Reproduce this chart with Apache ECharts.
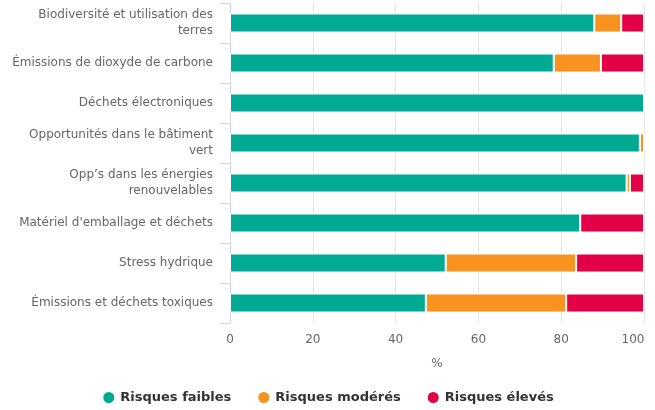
<!DOCTYPE html>
<html>
<head>
<meta charset="utf-8">
<script src="https://cdn.jsdelivr.net/npm/echarts@6/dist/echarts.min.js"></script>
<style>
html,body{margin:0;padding:0;background:#fff;}
#chart{width:655px;height:410px;}
</style>
</head>
<body>
<div id="chart"></div>
<script>
const categories = [
  "Biodiversité et utilisation des terres",
  "Émissions de dioxyde de carbone",
  "Déchets électroniques",
  "Opportunités dans le bâtiment vert",
  "Opp’s dans les énergies renouvelables",
  "Matériel d'emballage et déchets",
  "Stress hydrique",
  "Émissions et déchets toxiques"
];
const categoryLabels = [
  "Biodiversité et utilisation des\nterres",
  "Émissions de dioxyde de carbone",
  "Déchets électroniques",
  "Opportunités dans le bâtiment\nvert",
  "Opp’s dans les énergies\nrenouvelables",
  "Matériel d'emballage et déchets",
  "Stress hydrique",
  "Émissions et déchets toxiques"
];
const seriesNames = ["Risques faibles", "Risques modérés", "Risques élevés"];
const lowRisk = [88.0, 78.2, 100, 99.0, 95.8, 84.6, 52.1, 47.3];
const moderateRisk = [6.5, 11.4, 0, 1.0, 0.8, 0, 31.5, 33.9];
const highRisk = [5.5, 10.4, 0, 0, 3.4, 15.4, 16.4, 18.8];
const xTicks = [0, 20, 40, 60, 80, 100];
const colors = ["#00AA93", "#F7931E", "#E30047"];

const chart = echarts.init(document.getElementById('chart'), null, {renderer: 'canvas'});
const font = 'DejaVu Sans';
const mk = (name, data, color) => ({
  name: name,
  type: 'bar',
  stack: 'total',
  data: data,
  barWidth: 19,
  itemStyle: {color: color, borderColor: '#ffffff', borderWidth: 1},
  emphasis: {disabled: true}
});
const xMax = xTicks[xTicks.length - 1];
chart.setOption({
  animation: false,
  color: colors,
  grid: {left: 230, right: 11, top: 3, bottom: 87, containLabel: false},
  legend: {
    bottom: 0,
    left: 'center',
    icon: 'circle',
    itemWidth: 13,
    itemHeight: 13,
    itemGap: 25,
    textStyle: {fontFamily: font, fontSize: 13, fontWeight: 'bold', color: '#333333'},
    data: seriesNames
  },
  xAxis: {
    type: 'value',
    min: xTicks[0],
    max: xMax,
    interval: 20,
    name: '%',
    nameLocation: 'middle',
    nameGap: 35,
    nameTextStyle: {fontFamily: font, fontSize: 12, color: '#666666'},
    axisLine: {show: false},
    axisTick: {show: false},
    axisLabel: {
      fontFamily: font, fontSize: 12, color: '#666666', margin: 11,
      formatter: function (v) { return v === xMax ? '{last|' + v + '}' : String(v); },
      rich: {last: {fontFamily: font, fontSize: 12, color: '#666666', padding: [0, 22, 0, 0]}}
    },
    splitLine: {show: true, lineStyle: {color: '#e6e6e6', width: 1}}
  },
  yAxis: {
    type: 'category',
    inverse: true,
    data: categories,
    axisLine: {show: true, lineStyle: {color: '#ccd6eb'}},
    axisTick: {show: true, length: 10, lineStyle: {color: '#ccd6eb'}},
    axisLabel: {
      fontFamily: font, fontSize: 12, color: '#666666', margin: 17,
      lineHeight: 16, align: 'right',
      formatter: function (value) { return categoryLabels[categories.indexOf(value)]; }
    },
    splitLine: {show: false}
  },
  series: [
    mk(seriesNames[0], lowRisk, colors[0]),
    mk(seriesNames[1], moderateRisk, colors[1]),
    mk(seriesNames[2], highRisk, colors[2])
  ]
});
</script>
</body>
</html>
